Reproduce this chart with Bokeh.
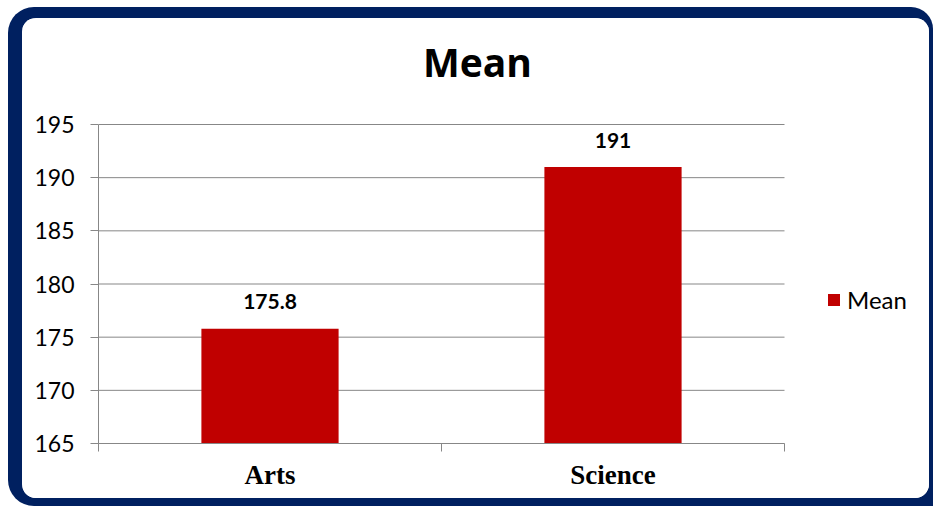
from bokeh.plotting import figure
from bokeh.layouts import column
from bokeh.models import (Range1d, FixedTicker, LinearAxis, Label,
                          LabelSet, ColumnDataSource, Legend, LegendItem)
from bokeh.core.properties import value
from bokeh.embed import file_html
from bokeh.resources import INLINE

# Data
categories = ["Arts", "Science"]
mean_values = [175.8, 191]
value_labels = ["175.8", "191"]
y_ticks = [165, 170, 175, 180, 185, 190, 195]
series_name = "Mean"

BAR_RED = "#C00000"
NAVY = "#002060"
GRID_GREY = "#878787"

# Each category occupies one unit on the x scale; bars sit at the slot centres
n = len(categories)
slot_edges = list(range(n + 1))
slot_centres = [i + 0.5 for i in range(n)]
y_lo, y_hi = y_ticks[0], y_ticks[-1]

# The drawing frame is larger than the value area: it runs on to the right
# to hold the legend and up to the top edge to hold the heading.
PLOT_PX = 686      # width of the category slots
FRAME_PX = 827     # full frame width
PLOT_H = 319       # height of the value area (y_lo..y_hi)
FRAME_H = 425      # full frame height
x_end = n * FRAME_PX / PLOT_PX
y_end = y_lo + (y_hi - y_lo) * FRAME_H / PLOT_H
px_per_unit = PLOT_H / (y_hi - y_lo)

p = figure(
    width=907, height=480,
    x_range=Range1d(0, x_end),
    y_range=Range1d(y_lo, y_end),
    x_axis_location=None,
    output_backend="svg",
    toolbar_location=None,
    min_border_left=76, min_border_right=907 - 76 - FRAME_PX,
    min_border_top=0, min_border_bottom=480 - FRAME_H,
)
p.outline_line_color = None
p.border_fill_color = "white"
p.background_fill_color = "white"
p.styles = {"border-radius": "14px", "overflow": "hidden",
            "background-color": "white"}
p.xgrid.grid_line_color = None
p.ygrid.grid_line_color = None

# The heading is drawn as a label inside the frame
p.title.text = ""
p.title.text_font_size = "0px"
p.title.standoff = 0
heading = Label(x=379 * n / PLOT_PX, y=y_hi + 63 / px_per_unit,
                text=series_name, text_align="center",
                text_baseline="alphabetic",
                text_font="Open Sans", text_font_style="bold",
                text_font_size="39px", text_color="black")
p.add_layout(heading)

# Y axis
p.yaxis.ticker = FixedTicker(ticks=y_ticks)
p.yaxis.bounds = (y_lo, y_hi)
p.yaxis.axis_line_color = GRID_GREY
p.yaxis.major_tick_line_color = GRID_GREY
p.yaxis.major_tick_out = 8
p.yaxis.major_tick_in = 0
p.yaxis.minor_tick_line_color = None
p.yaxis.major_label_text_font = "Lato"
p.yaxis.major_label_text_font_size = "23px"
p.yaxis.major_label_text_color = "black"
p.yaxis.major_label_standoff = 16

# Horizontal grid lines across the category slots only
p.segment(x0=0, x1=n, y0=y_ticks, y1=y_ticks,
          line_color=GRID_GREY, line_width=1, level="underlay")

# X axis: line with tick marks on the category boundaries
edge_axis = LinearAxis(ticker=FixedTicker(ticks=slot_edges), bounds=(0, n))
edge_axis.axis_line_color = GRID_GREY
edge_axis.major_tick_line_color = GRID_GREY
edge_axis.major_tick_out = 8
edge_axis.major_tick_in = 0
edge_axis.minor_tick_line_color = None
edge_axis.major_label_text_font_size = "0px"
edge_axis.major_label_standoff = 0
p.add_layout(edge_axis, "below")

# X axis: category names under each bar
cat_axis = LinearAxis(ticker=FixedTicker(ticks=slot_centres), bounds=(0, n),
                      major_label_overrides={c: name for c, name in zip(slot_centres, categories)})
cat_axis.axis_line_color = None
cat_axis.major_tick_line_color = None
cat_axis.minor_tick_line_color = None
cat_axis.major_label_text_font = "Liberation Serif"
cat_axis.major_label_text_font_style = "bold"
cat_axis.major_label_text_font_size = "27px"
cat_axis.major_label_text_color = "black"
cat_axis.major_label_standoff = 2
p.add_layout(cat_axis, "below")

# Bars
src = ColumnDataSource(dict(x=slot_centres, val=mean_values, lbl=value_labels))
bars = p.vbar(x="x", top="val", bottom=y_lo, width=0.4, source=src,
              fill_color=BAR_RED, line_color=None)

# Value labels above bars
labels = LabelSet(x="x", y="val", text="lbl", source=src,
                  y_offset=27, text_align="center", text_baseline="middle",
                  text_font=value("Lato"), text_font_style="bold",
                  text_font_size="21px", text_color="black")
p.add_layout(labels)

# Legend at the right of the slots
legend = Legend(items=[LegendItem(label=series_name, renderers=[bars])],
                location=(728, 129), orientation="vertical",
                glyph_width=15, glyph_height=15, label_standoff=6,
                padding=0, margin=0, spacing=0,
                border_line_color=None, background_fill_alpha=0,
                label_text_font="Lato", label_text_font_size="24px",
                label_text_color="black")
p.add_layout(legend, "center")

# Navy rounded frame around the chart
page = column(p, styles={
    "background-color": NAVY,
    "border-radius": "26px 22px 0 26px",
    "padding": "11px 4px 8px 14px",
    "margin": "7px 0 0 8px",
})

open("out.html", "w").write(file_html(page, INLINE))
